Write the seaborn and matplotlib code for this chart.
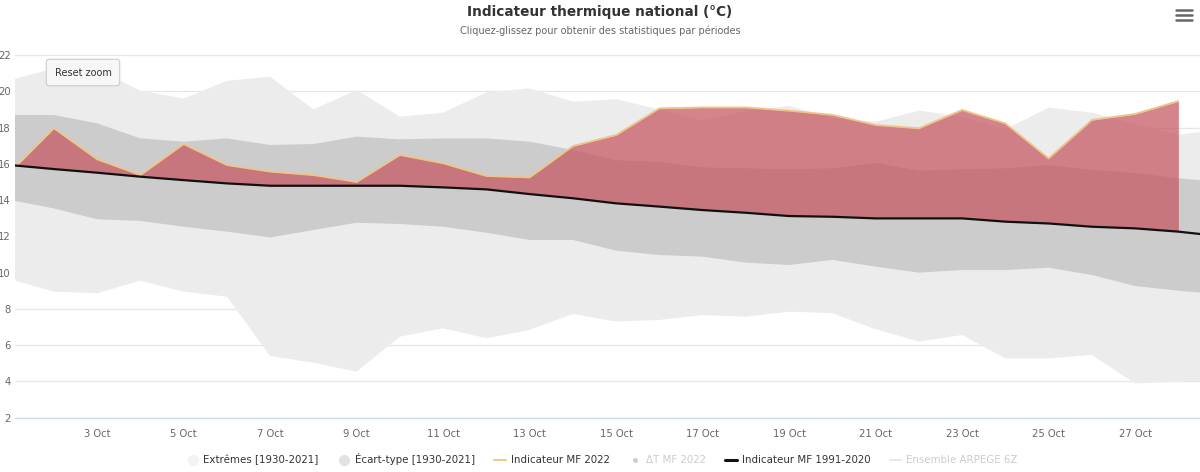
import numpy as np
import pandas as pd
import matplotlib
matplotlib.use("Agg")
import matplotlib.pyplot as plt
from matplotlib.lines import Line2D
import seaborn as sns

# ---------------- data ----------------
days = list(range(1, 30))  # October days
extremes_high = [20.62, 21.26, 21.2, 20.03, 19.6, 20.58, 20.8, 19.0, 20.07, 18.6,
                 18.82, 19.94, 20.16, 19.43, 19.56, 19.0, 18.4, 18.9, 19.2, 18.5,
                 18.32, 18.93, 18.6, 17.9, 19.1, 18.82, 18.2, 17.6, 17.9]
extremes_low = [9.63, 8.95, 8.86, 9.56, 8.95, 8.67, 5.4, 5.03, 4.54, 6.47,
                6.93, 6.38, 6.84, 7.72, 7.3, 7.39, 7.66, 7.57, 7.85, 7.76,
                6.88, 6.2, 6.56, 5.27, 5.27, 5.46, 3.89, 3.98, 4.1]
ecart_high = [18.69, 18.69, 18.23, 17.4, 17.22, 17.4, 17.04, 17.09, 17.5, 17.35,
              17.4, 17.4, 17.22, 16.76, 16.2, 16.1, 15.8, 15.75, 15.7, 15.75,
              16.05, 15.62, 15.7, 15.75, 15.93, 15.66, 15.5, 15.2, 15.0]
ecart_low = [14.0, 13.54, 12.94, 12.85, 12.53, 12.26, 11.94, 12.35, 12.75, 12.68,
             12.53, 12.2, 11.8, 11.8, 11.21, 10.97, 10.88, 10.55, 10.42, 10.7,
             10.33, 10.0, 10.14, 10.14, 10.27, 9.87, 9.26, 9.0, 8.8]
normal_1991_2020 = [15.93, 15.71, 15.51, 15.29, 15.1, 14.92, 14.79, 14.79, 14.79, 14.79,
                    14.7, 14.59, 14.33, 14.1, 13.82, 13.64, 13.45, 13.3, 13.12, 13.08,
                    12.99, 12.99, 12.99, 12.81, 12.71, 12.53, 12.44, 12.26, 12.0]
days_2022 = list(range(1, 29))
mf_2022 = [15.57, 17.96, 16.25, 15.38, 17.09, 15.93, 15.57, 15.38, 15.0, 16.49,
           16.03, 15.33, 15.25, 16.98, 17.59, 19.06, 19.11, 19.11, 18.93, 18.7,
           18.14, 17.96, 18.97, 18.23, 16.3, 18.42, 18.75, 19.46]
tick_days = [3, 5, 7, 9, 11, 13, 15, 17, 19, 21, 23, 25, 27]
tick_labels = ["3 Oct", "5 Oct", "7 Oct", "9 Oct", "11 Oct", "13 Oct", "15 Oct",
               "17 Oct", "19 Oct", "21 Oct", "23 Oct", "25 Oct", "27 Oct"]
y_ticks = [2, 4, 6, 8, 10, 12, 14, 16, 18, 20, 22]

title = "Indicateur thermique national (°C)"
subtitle = "Cliquez-glissez pour obtenir des statistiques par périodes"
legend_labels = ["Extrêmes [1930-2021]", "Écart-type [1930-2021]", "Indicateur MF 2022",
                 "ΔT MF 2022", "Indicateur MF 1991-2020", "Ensemble ARPEGE 6Z"]

# ---------------- plot ----------------
sns.set_theme(style="white")
plt.rcParams["font.family"] = ["DejaVu Sans"]

fig = plt.figure(figsize=(12, 4.72), dpi=100)
W, H = 1200, 472
ax = fig.add_axes([15 / W, (H - 417.7) / H, (1200 - 15) / W, (417.7 - 55) / H])

df = pd.DataFrame({"day": days, "emax": extremes_high, "emin": extremes_low,
                   "smax": ecart_high, "smin": ecart_low, "norm": normal_1991_2020})
d22 = pd.DataFrame({"day": days_2022, "mf": mf_2022})
norm22 = np.array(normal_1991_2020[:len(days_2022)])

for y in y_ticks:
    ax.axhline(y, color="#e6e6e6", lw=0.9, zorder=0)

ax.fill_between(df["day"], df["emin"], df["emax"], color="#ececec", lw=0, zorder=1)
ax.fill_between(df["day"], df["smin"], df["smax"], color="#cccccc", lw=0, zorder=2)

mf = d22["mf"].to_numpy()
ax.fill_between(d22["day"], norm22, mf, where=mf >= norm22, interpolate=True,
                color=(196 / 255, 85 / 255, 94 / 255), alpha=0.72, lw=0, zorder=3)
ax.fill_between(d22["day"], norm22, mf, where=mf < norm22, interpolate=True,
                color=(90 / 255, 130 / 255, 170 / 255), alpha=0.75, lw=0, zorder=3)

sns.lineplot(data=d22, x="day", y="mf", ax=ax, color="#efc487", lw=1.3, zorder=4)
sns.lineplot(data=df, x="day", y="norm", ax=ax, color="#111111", lw=1.6, zorder=5)

ax.set_xlim(1.1, 28.5)
ax.set_ylim(2, 22)
ax.set_xlabel("")
ax.set_ylabel("")
ax.set_xticks(tick_days)
ax.set_xticklabels(tick_labels)
ax.set_yticks(y_ticks)
for s in ["top", "right", "left"]:
    ax.spines[s].set_visible(False)
ax.spines["bottom"].set_color("#ccd6eb")
ax.spines["bottom"].set_linewidth(0.9)
ax.tick_params(axis="x", colors="#ccd6eb", length=5, width=0.9, direction="out",
               labelcolor="#666666", labelsize=7.2, pad=3)
ax.tick_params(axis="y", length=0, labelcolor="#666666", labelsize=7.2, pad=3)
for lbl in ax.get_yticklabels():
    lbl.set_horizontalalignment("right")

# Reset zoom button
fig.text(83 / W, 1 - 72.5 / H, "Reset zoom", fontsize=7, color="#333333",
         ha="center", va="center",
         bbox=dict(boxstyle="round,pad=0.85,rounding_size=0.3", fc="#f7f7f7",
                   ec="#cccccc", lw=0.8), zorder=10)

fig.text(0.5, 1 - 12 / H, title, ha="center", va="center", fontsize=9.8,
         fontweight="bold", color="#333333")
fig.text(0.5, 1 - 31 / H, subtitle, ha="center", va="center", fontsize=7.0, color="#666666")

# hamburger menu
for yy in [10, 15, 20]:
    fig.add_artist(Line2D([1176 / W, 1192 / W], [1 - yy / H, 1 - yy / H],
                          color="#666666", lw=1.8, transform=fig.transFigure))

handles = [
    Line2D([], [], ls="none", marker="o", ms=7, mfc="#f3f3f3", mec="#f3f3f3"),
    Line2D([], [], ls="none", marker="o", ms=7, mfc="#e2e2e2", mec="#e2e2e2"),
    Line2D([], [], color="#e8c87a", lw=1.3),
    Line2D([], [], ls="none", marker="o", ms=2.5, mfc="#cccccc", mec="#cccccc"),
    Line2D([], [], color="#111111", lw=2.2),
    Line2D([], [], color="#e6e6e6", lw=1.3),
]
leg = fig.legend(handles, legend_labels, loc="center", bbox_to_anchor=(0.502, 0.027),
                 ncol=6, frameon=False, fontsize=7.4, handlelength=1.1,
                 handletextpad=0.5, columnspacing=1.9)
text_colors = ["#333333", "#333333", "#333333", "#cccccc", "#333333", "#cccccc"]
for t, c in zip(leg.get_texts(), text_colors):
    t.set_color(c)

fig.savefig("out.png", dpi=100)
